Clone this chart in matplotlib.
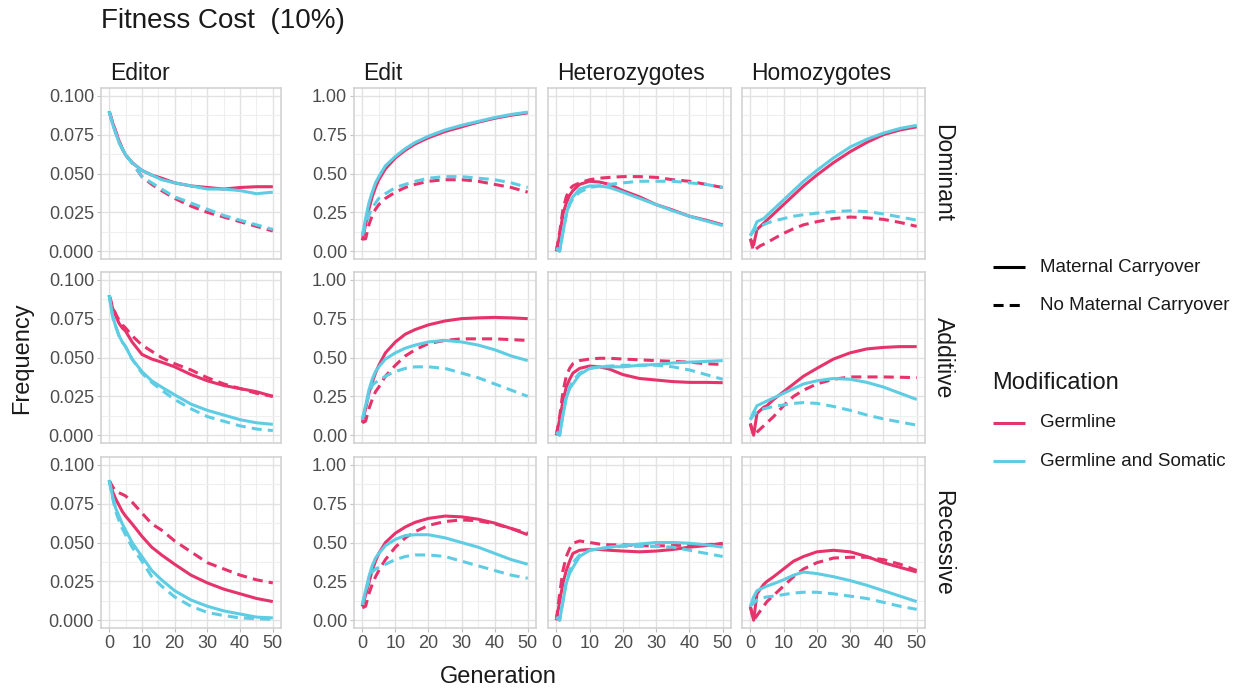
import matplotlib
matplotlib.use('Agg')
import matplotlib.pyplot as plt
from matplotlib.lines import Line2D
from matplotlib.ticker import MultipleLocator, FixedLocator

plt.rcParams['font.family'] = ['Liberation Sans', 'DejaVu Sans']

# generations at which the simulated frequencies were sampled
generations = [0, 1, 2, 3, 4, 5, 7, 10, 13, 16, 20, 25, 30, 35, 40, 45, 50]

columns = ['Editor', 'Edit', 'Heterozygotes', 'Homozygotes']
rows = ['Dominant', 'Additive', 'Recessive']

# ---- Dominant ----
editor_dominant = {
    'germline_mc':  [.090, .083, .077, .071, .066, .062, .057, .052, .049, .047, .044, .042, .041, .040, .041, .0415, .0415],
    'germline_nmc': [.090, .083, .077, .071, .066, .062, .057, .048, .043, .039, .034, .029, .025, .022, .019, .016, .013],
    'somatic_mc':   [.090, .082, .076, .070, .066, .062, .057, .052, .049, .046, .044, .042, .040, .040, .039, .037, .038],
    'somatic_nmc':  [.090, .082, .076, .070, .066, .062, .057, .048, .044, .040, .035, .031, .027, .023, .020, .017, .014],
}
edit_dominant = {
    'germline_mc':  [.07, .17, .27, .35, .41, .46, .53, .60, .65, .69, .73, .77, .80, .83, .855, .875, .89],
    'germline_nmc': [.08, .08, .17, .23, .27, .30, .34, .38, .41, .43, .45, .46, .46, .45, .43, .41, .38],
    'somatic_mc':   [.10, .21, .31, .38, .44, .48, .55, .61, .66, .70, .74, .78, .81, .835, .86, .88, .895],
    'somatic_nmc':  [.10, .17, .23, .28, .31, .34, .37, .41, .43, .45, .47, .48, .48, .47, .46, .44, .41],
}
het_dominant = {
    'germline_mc':  [0, .10, .24, .31, .36, .39, .43, .45, .445, .43, .39, .35, .30, .265, .225, .20, .17],
    'germline_nmc': [0, .12, .27, .35, .40, .42, .44, .46, .47, .475, .48, .48, .475, .46, .45, .43, .41],
    'somatic_mc':   [.02, 0, .12, .24, .31, .35, .40, .42, .42, .41, .38, .34, .30, .26, .225, .195, .165],
    'somatic_nmc':  [.02, 0, .13, .23, .30, .34, .38, .41, .42, .43, .44, .45, .45, .45, .44, .43, .41],
}
hom_dominant = {
    'germline_mc':  [.08, .04, .14, .16, .18, .20, .24, .30, .36, .42, .49, .57, .64, .70, .75, .78, .80],
    'germline_nmc': [.08, 0, .02, .035, .045, .055, .08, .115, .145, .17, .19, .21, .22, .215, .205, .185, .16],
    'somatic_mc':   [.10, .14, .19, .20, .21, .23, .27, .33, .39, .45, .52, .60, .67, .72, .76, .79, .81],
    'somatic_nmc':  [.10, .13, .15, .16, .17, .18, .195, .21, .225, .235, .245, .255, .26, .255, .24, .22, .20],
}

# ---- Additive ----
editor_additive = {
    'germline_mc':  [.090, .082, .077, .072, .069, .067, .060, .052, .049, .047, .044, .039, .035, .032, .030, .028, .025],
    'germline_nmc': [.090, .083, .078, .074, .071, .069, .064, .058, .054, .050, .046, .042, .037, .033, .030, .027, .025],
    'somatic_mc':   [.090, .077, .070, .064, .060, .057, .049, .041, .035, .031, .026, .020, .016, .013, .010, .008, .007],
    'somatic_nmc':  [.090, .077, .070, .064, .060, .057, .049, .040, .034, .029, .023, .017, .012, .009, .006, .004, .003],
}
edit_additive = {
    'germline_mc':  [.08, .17, .27, .34, .40, .45, .53, .60, .65, .68, .71, .735, .75, .755, .758, .755, .75],
    'germline_nmc': [.08, .09, .17, .23, .28, .31, .38, .45, .51, .55, .59, .61, .62, .62, .62, .615, .61],
    'somatic_mc':   [.10, .19, .29, .36, .41, .44, .49, .53, .56, .58, .60, .61, .60, .58, .55, .51, .48],
    'somatic_nmc':  [.10, .18, .26, .32, .34, .35, .38, .41, .43, .44, .44, .43, .40, .37, .33, .29, .25],
}
het_additive = {
    'germline_mc':  [0, .10, .22, .31, .36, .40, .43, .445, .44, .425, .39, .365, .355, .345, .34, .34, .338],
    'germline_nmc': [0, .12, .28, .38, .43, .46, .48, .49, .495, .495, .49, .485, .48, .475, .47, .46, .455],
    'somatic_mc':   [.02, 0, .13, .24, .30, .33, .39, .43, .44, .44, .44, .45, .455, .465, .47, .475, .48],
    'somatic_nmc':  [.02, 0, .14, .25, .31, .35, .40, .43, .44, .445, .45, .45, .45, .44, .42, .39, .36],
}
hom_additive = {
    'germline_mc':  [.075, 0, .14, .16, .18, .19, .23, .28, .33, .38, .43, .49, .53, .555, .565, .57, .57],
    'germline_nmc': [.075, 0, .02, .04, .06, .08, .12, .19, .25, .29, .33, .36, .375, .375, .375, .373, .37],
    'somatic_mc':   [.10, .15, .19, .20, .21, .22, .24, .27, .30, .33, .35, .365, .36, .34, .31, .27, .23],
    'somatic_nmc':  [.10, .13, .15, .16, .17, .175, .185, .195, .205, .21, .205, .185, .16, .13, .105, .085, .065],
}

# ---- Recessive ----
editor_recessive = {
    'germline_mc':  [.090, .083, .078, .074, .070, .067, .062, .054, .047, .042, .036, .029, .024, .020, .017, .014, .012],
    'germline_nmc': [.090, .086, .083, .082, .081, .080, .076, .069, .062, .058, .051, .044, .037, .033, .029, .026, .024],
    'somatic_mc':   [.090, .080, .072, .067, .062, .058, .050, .041, .032, .026, .019, .013, .009, .006, .004, .002, .0015],
    'somatic_nmc':  [.090, .079, .070, .064, .059, .055, .047, .038, .028, .022, .015, .009, .005, .003, .0015, .001, .0006],
}
edit_recessive = {
    'germline_mc':  [.09, .16, .24, .32, .38, .43, .50, .56, .60, .63, .655, .67, .665, .65, .625, .59, .55],
    'germline_nmc': [.08, .09, .17, .23, .28, .32, .39, .47, .53, .57, .61, .635, .645, .64, .62, .59, .56],
    'somatic_mc':   [.10, .19, .28, .35, .40, .43, .48, .52, .545, .55, .55, .53, .50, .47, .43, .39, .36],
    'somatic_nmc':  [.10, .18, .26, .31, .33, .34, .36, .39, .41, .42, .42, .41, .38, .35, .32, .29, .27],
}
het_recessive = {
    'germline_mc':  [0, .12, .24, .32, .38, .43, .45, .455, .455, .45, .445, .44, .445, .455, .47, .48, .495],
    'germline_nmc': [0, .17, .32, .41, .46, .495, .51, .50, .49, .485, .485, .48, .478, .48, .485, .487, .49],
    'somatic_mc':   [.02, 0, .12, .24, .30, .34, .41, .45, .46, .47, .48, .49, .50, .50, .495, .485, .47],
    'somatic_nmc':  [.02, 0, .13, .25, .32, .37, .42, .45, .46, .47, .475, .475, .475, .47, .45, .43, .41],
}
hom_recessive = {
    'germline_mc':  [.088, 0, .17, .20, .23, .25, .28, .33, .38, .41, .44, .45, .44, .41, .37, .34, .31],
    'germline_nmc': [.088, 0, .03, .06, .09, .12, .16, .22, .28, .33, .37, .40, .405, .405, .39, .36, .32],
    'somatic_mc':   [.09, .15, .19, .20, .21, .22, .235, .26, .29, .31, .30, .28, .255, .225, .19, .155, .12],
    'somatic_nmc':  [.09, .11, .13, .14, .145, .15, .155, .165, .175, .18, .18, .17, .155, .14, .115, .09, .07],
}

grid_data = [
    [editor_dominant, edit_dominant, het_dominant, hom_dominant],
    [editor_additive, edit_additive, het_additive, hom_additive],
    [editor_recessive, edit_recessive, het_recessive, hom_recessive],
]

PINK = '#E6336B'
CYAN = '#5ECDE4'
DASH = (0, (3.3, 2.0))
styles = {
    'germline_mc':  (PINK, '-'),
    'germline_nmc': (PINK, DASH),
    'somatic_mc':   (CYAN, '-'),
    'somatic_nmc':  (CYAN, DASH),
}
draw_order = ['germline_nmc', 'germline_mc', 'somatic_nmc', 'somatic_mc']

W, H = 1242, 692
fig = plt.figure(figsize=(W / 100, H / 100), dpi=100)


def px_rect(left, right, top, bottom):
    return [left / W, 1 - bottom / H, (right - left) / W, (bottom - top) / H]


col_px = [(101, 281), (354, 536), (548, 731), (742, 925)]
row_px = [(88, 259), (272, 443), (457, 628)]

TEXT = '#1A1A1A'
TICK = '#4D4D4D'

for i, (top, bottom) in enumerate(row_px):
    for j, (left, right) in enumerate(col_px):
        ax = fig.add_axes(px_rect(left, right, top, bottom))
        ax.set_xlim(-2.5, 52.5)
        if j == 0:
            ax.set_ylim(-0.005, 0.105)
            ax.yaxis.set_major_locator(FixedLocator([0, .025, .05, .075, .1]))
            ax.yaxis.set_minor_locator(FixedLocator([.0125, .0375, .0625, .0875]))
            ax.set_yticklabels(['0.000', '0.025', '0.050', '0.075', '0.100'])
        else:
            ax.set_ylim(-0.05, 1.05)
            ax.yaxis.set_major_locator(FixedLocator([0, .25, .5, .75, 1]))
            ax.yaxis.set_minor_locator(FixedLocator([.125, .375, .625, .875]))
            ax.set_yticklabels(['0.00', '0.25', '0.50', '0.75', '1.00'])
        ax.xaxis.set_major_locator(MultipleLocator(10))
        ax.xaxis.set_minor_locator(FixedLocator([5, 15, 25, 35, 45]))

        ax.grid(True, which='major', color='#E2E2E2', lw=1.0)
        ax.grid(True, which='minor', color='#EFEFEF', lw=0.8)
        ax.set_axisbelow(True)
        for s in ax.spines.values():
            s.set_color('#D0D0D0')
            s.set_linewidth(1.1)

        ax.tick_params(which='minor', length=0)
        ax.tick_params(which='major', length=3, width=0.8, color='#C0C0C0',
                       labelsize=13, labelcolor=TICK, pad=2)
        if i < 2:
            ax.tick_params(axis='x', labelbottom=False, length=0)
        if j > 1:
            ax.tick_params(axis='y', labelleft=False, length=0)

        panel = grid_data[i][j]
        for key in draw_order:
            color, ls = styles[key]
            ax.plot(generations, panel[key], color=color, linestyle=ls, lw=2.2,
                    solid_capstyle='butt')

        if i == 0:
            fig.text((left + 9) / W, 1 - 80 / H, columns[j], fontsize=16.5,
                     color=TEXT, ha='left', va='baseline')
    fig.text(943 / W, 1 - ((top + bottom) / 2) / H, rows[i], fontsize=16.5,
             color=TEXT, rotation=-90, ha='center', va='center')

fig.text(101 / W, 1 - 28 / H, 'Fitness Cost  (10%)', fontsize=20,
         color=TEXT, ha='left', va='baseline')
fig.text(22 / W, 1 - 358 / H, 'Frequency', fontsize=17, color=TEXT,
         rotation=90, ha='center', va='center')
fig.text(498 / W, 1 - 677 / H, 'Generation', fontsize=17, color=TEXT,
         ha='center', va='center')

# legend drawn by hand to the right of the panels
legend_rows = [
    ('#000000', '-', 'Maternal Carryover', 267),
    ('#000000', DASH, 'No Maternal Carryover', 305),
    (PINK, '-', 'Germline', 423),
    (CYAN, '-', 'Germline and Somatic', 461),
]
for color, ls, label, y in legend_rows:
    fig.add_artist(Line2D([993 / W, 1025 / W], [1 - y / H, 1 - y / H],
                          color=color, linestyle=ls, lw=2.2,
                          solid_capstyle='butt'))
    fig.text(1040 / W, 1 - y / H, label, fontsize=13.5, color=TEXT,
             ha='left', va='center')
fig.text(992 / W, 1 - 383 / H, 'Modification', fontsize=17, color=TEXT,
         ha='left', va='center')

fig.savefig('out.png', dpi=100)
